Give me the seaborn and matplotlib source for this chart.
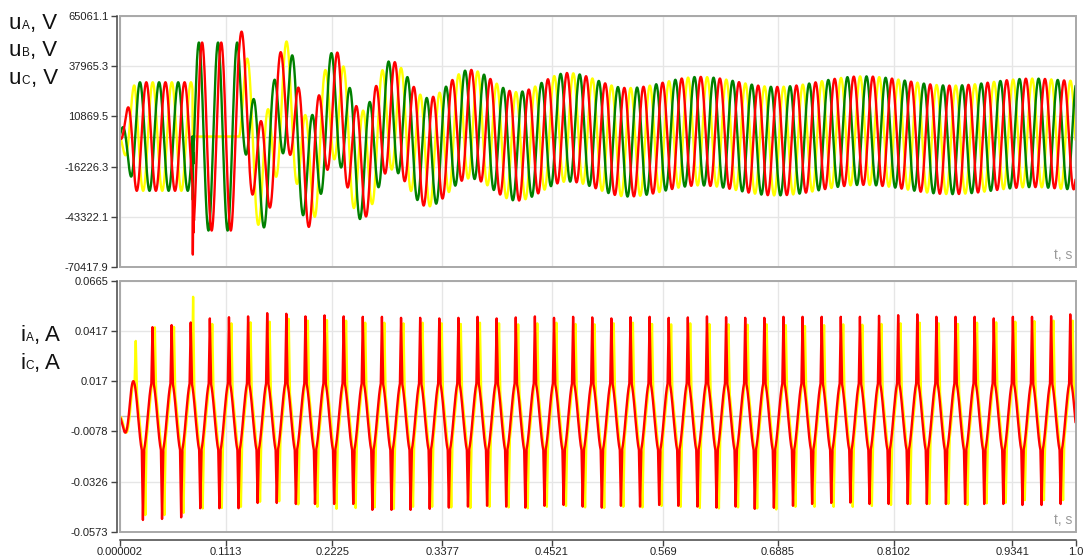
import numpy as np
import matplotlib
matplotlib.use("Agg")
import matplotlib.pyplot as plt
import seaborn as sns
from matplotlib.patches import Rectangle

# ---------------- values ----------------
F_NET = 50.0                 # Hz
U_AMP = 29300.0              # phase voltage peak, V
U_PHASE_A = -175.0           # deg, phase of uA at t = 0
RAMP_T = [0.0, 0.016]        # recorder start-up ramp
RAMP_G = [0.0, 1.0]
FAULT_ON = 0.0764            # s, phase A to ground
FAULT_OFF = 0.1253           # s, fault cleared
BURST_F = 1500.0             # Hz, inception transient on B and C
BURST_TAU = 0.0005           # s

# neutral voltage swing after clearing: times and values of its extremes
U0_T = [0.1484, 0.1746, 0.1976, 0.2248, 0.2531, 0.2835, 0.3222, 0.3662, 0.4154,
        0.4688, 0.5316, 0.6070, 0.6866, 0.7777, 0.8699, 0.9557, 1.0]
U0_V = [-21000, 22000, -19500, 17000, -15500, 11500, -8500, 6700, -5300,
        5000, -3100, 2900, -2500, 3200, -1800, 2000, 800]

I_AMP = 0.0176               # A, fundamental of the currents
I_OFF = -0.0006
I_PHASE_C = -171.0           # deg
I_LAG_A = 0.001              # s, iA behind iC
SPIKE_LAG_A = 0.0025         # s
SPIKE_HALF = 0.0012          # s, half base of a spike

# spike tops per cycle (k = 0..49), NaN = no spike
IC_UP = [np.nan, 0.0437, 0.0447, 0.0460, 0.0480, 0.0486, 0.0490, 0.0506, 0.0503, 0.0490,
         0.0495, 0.0490, 0.0488, 0.0488, 0.0483, 0.0483, 0.0480, 0.0483, 0.0488, 0.0480,
         0.0485, 0.0490, 0.0483, 0.0488, 0.0485, 0.0480, 0.0486, 0.0488, 0.0483, 0.0485,
         0.0490, 0.0486, 0.0483, 0.0483, 0.0488, 0.0488, 0.0488, 0.0488, 0.0488, 0.0493,
         0.0496, 0.0500, 0.0488, 0.0488, 0.0488, 0.0480, 0.0488, 0.0488, 0.0491, 0.0500]
IC_DOWN = [-0.0516, -0.0511, -0.0503, -0.0458, -0.0458, -0.0458, -0.0432, -0.0432, -0.0437, -0.0437,
           -0.0437, -0.0437, -0.0466, -0.0466, -0.0466, -0.0461, -0.0455, -0.0450, -0.0446, -0.0450,
           -0.0455, -0.0446, -0.0442, -0.0450, -0.0455, -0.0446, -0.0450, -0.0442, -0.0446, -0.0450,
           -0.0455, -0.0450, -0.0461, -0.0456, -0.0446, -0.0437, -0.0432, -0.0430, -0.0437, -0.0437,
           -0.0437, -0.0437, -0.0437, -0.0437, -0.0437, -0.0437, -0.0442, -0.0442, -0.0437, np.nan]
IA_UP = [0.0388, 0.0455, 0.0457, 0.0606, 0.0472, 0.0475, 0.0480, 0.0483, 0.0497, 0.0488,
         0.0491, 0.0488, 0.0478, 0.0478, 0.0475, 0.0478, 0.0475, 0.0472, 0.0478, 0.0475,
         0.0470, 0.0475, 0.0478, 0.0472, 0.0470, 0.0475, 0.0478, 0.0472, 0.0470, 0.0475,
         0.0472, 0.0470, 0.0468, 0.0470, 0.0466, 0.0462, 0.0466, 0.0470, 0.0468, 0.0472,
         0.0475, 0.0478, 0.0475, 0.0472, 0.0478, 0.0480, 0.0483, 0.0486, 0.0488, 0.0488]
IA_DOWN = [-0.0511, -0.0511, -0.0500, -0.0478, -0.0476, -0.0470, -0.0445, -0.0443, -0.0458, -0.0470,
           -0.0480, -0.0476, -0.0473, -0.0480, -0.0470, -0.0470, -0.0473, -0.0476, -0.0470, -0.0473,
           -0.0478, -0.0470, -0.0466, -0.0473, -0.0476, -0.0470, -0.0473, -0.0466, -0.0470, -0.0476,
           -0.0478, -0.0473, -0.0478, -0.0483, -0.0470, -0.0470, -0.0470, -0.0470, -0.0466, -0.0461,
           -0.0456, -0.0456, -0.0456, -0.0461, -0.0453, -0.0450, -0.0437, -0.0437, -0.0437, np.nan]

X_TICKS = [0.000002, 0.1113, 0.2225, 0.3377, 0.4521, 0.569, 0.6885, 0.8102, 0.9341, 1.0]
X_LABELS = ["0.000002", "0.1113", "0.2225", "0.3377", "0.4521", "0.569", "0.6885",
            "0.8102", "0.9341", "1.0"]
U_TICKS = [65061.1, 37965.3, 10869.5, -16226.3, -43322.1, -70417.9]
U_LABELS = ["65061.1", "37965.3", "10869.5", "-16226.3", "-43322.1", "-70417.9"]
I_TICKS = [0.0665, 0.0417, 0.017, -0.0078, -0.0326, -0.0573]
I_LABELS = ["0.0665", "0.0417", "0.017", "-0.0078", "-0.0326", "-0.0573"]

YELLOW, GREEN, RED = "#ffff00", "#008000", "#ff0000"

# ---------------- build the traces ----------------
t = np.arange(0.0, 1.0 + 1e-9, 2.5e-5)
w = 2 * np.pi * F_NET


def phase_v(t, deg):
    return U_AMP * np.interp(t, RAMP_T, RAMP_G) * np.sin(w * t + np.radians(deg))


ua = phase_v(t, U_PHASE_A)
ub = phase_v(t, U_PHASE_A - 120)
uc = phase_v(t, U_PHASE_A + 120)

# neutral displacement
u0 = np.zeros_like(t)
on = (t >= FAULT_ON) & (t < FAULT_OFF)
s = t[on] - FAULT_ON
ua_on = phase_v(np.array([FAULT_ON]), U_PHASE_A)[0]
burst = ua_on * np.exp(-s / BURST_TAU) * np.cos(2 * np.pi * BURST_F * s)
u0[on] = -ua[on] + burst

knots_t = [FAULT_OFF] + U0_T
knots_v = [-phase_v(np.array([FAULT_OFF]), U_PHASE_A)[0]] + U0_V
for i in range(len(knots_t) - 1):
    m = (t >= knots_t[i]) & (t <= knots_t[i + 1])
    x = (t[m] - knots_t[i]) / (knots_t[i + 1] - knots_t[i])
    u0[m] = knots_v[i] + (knots_v[i + 1] - knots_v[i]) * (1 - np.cos(np.pi * x)) / 2

uA = ua + u0
uA[on] = 0.0
uB = ub + u0
uC = uc + u0


def current(t, lag, spike_lag, ups, downs):
    tt = t - lag
    g = np.interp(tt, [0.0, 0.012], [0.0, 1.0])
    i = I_OFF + I_AMP * g * np.sin(w * tt + np.radians(I_PHASE_C))
    t_peak = (90 - I_PHASE_C) / 360 / F_NET
    for k in range(len(ups)):
        for tk, top, base in ((t_peak + k / F_NET, ups[k], I_OFF + I_AMP),
                              (t_peak + 0.5 / F_NET + k / F_NET, downs[k], I_OFF - I_AMP)):
            if np.isnan(top):
                continue
            tk = tk + spike_lag
            m = np.abs(t - tk) < SPIKE_HALF
            i[m] += (top - base) * (1 - np.abs(t[m] - tk) / SPIKE_HALF)
    return i


iC = current(t, 0.0, 0.0, IC_UP, IC_DOWN)
iA = current(t, I_LAG_A, SPIKE_LAG_A, IA_UP, IA_DOWN)

# ---------------- figure ----------------
sns.set_theme(style="white")
plt.rcParams["font.family"] = ["Liberation Sans", "DejaVu Sans"]

W, H = 1086, 556
fig = plt.figure(figsize=(W / 100, H / 100), dpi=100)
ax1 = fig.add_axes([119.5 / W, 1 - 267 / H, 956 / W, 251 / H])
ax2 = fig.add_axes([119.5 / W, 1 - 531.5 / H, 956 / W, 250.5 / H])


def style(ax, yticks, ylabels, show_x):
    ax.set_xlim(X_TICKS[0], X_TICKS[-1])
    ax.set_ylim(yticks[-1], yticks[0])
    ax.set_yticks(yticks, labels=ylabels)
    if show_x:
        ax.set_xticks(X_TICKS, labels=X_LABELS)
    else:
        ax.set_xticks(X_TICKS, labels=[])
    ax.grid(True, color="#e6e6e6", lw=1.0, zorder=0)
    ax.axhline(0, color="#b9b9b9", lw=1.0, zorder=1)
    for side in ("top", "right", "bottom"):
        ax.spines[side].set_visible(False)
    ax.spines["left"].set_position(("outward", 2))
    ax.spines["left"].set_color("#444444")
    ax.spines["left"].set_linewidth(1.1)
    ax.tick_params(axis="y", direction="out", length=4, width=1.0, color="#444444",
                   labelsize=8, pad=2, labelcolor="#222222", left=True)
    if show_x:
        ax.spines["bottom"].set_visible(True)
        ax.spines["bottom"].set_position(("outward", 6))
        ax.spines["bottom"].set_color("#444444")
        ax.spines["bottom"].set_linewidth(1.1)
        ax.tick_params(axis="x", direction="out", length=4, width=1.0, color="#444444",
                       labelsize=8, pad=1.5, labelcolor="#222222", bottom=True)
    else:
        ax.tick_params(axis="x", length=0)
    ax.add_patch(Rectangle((0, 0), 1, 1, transform=ax.transAxes, fill=False,
                           ec="#a8a8a8", lw=1.4, clip_on=False, zorder=6))
    ax.text(0.997, 0.018, "t, s", transform=ax.transAxes, ha="right", va="bottom",
            color="#9a9a9a", fontsize=10, zorder=7)
    ax.set_xlabel("")
    ax.set_ylabel("")


for y, c in ((uA, YELLOW), (uB, GREEN), (uC, RED)):
    sns.lineplot(x=t, y=y, ax=ax1, color=c, linewidth=1.7, estimator=None,
                 sort=False, legend=False, zorder=3)
for y, c in ((iA, YELLOW), (iC, RED)):
    sns.lineplot(x=t, y=y, ax=ax2, color=c, linewidth=1.7, estimator=None,
                 sort=False, legend=False, zorder=3)

style(ax1, U_TICKS, U_LABELS, False)
style(ax2, I_TICKS, I_LABELS, True)

# signal names at the left: big letter, small phase letter, unit
renderer = fig.canvas.get_renderer()


def put_label(x_px, base_px, parts):
    x = x_px
    for txt, size in parts:
        tx = fig.text(x / W, 1 - base_px / H, txt, fontsize=size, va="baseline",
                      ha="left", color="#111111")
        bb = tx.get_window_extent(renderer)
        x = bb.x1 + 0.5


put_label(9, 29, [("u", 16), ("A", 8.5), (", V", 16)])
put_label(9, 56, [("u", 16), ("B", 8.5), (", V", 16)])
put_label(9, 84, [("u", 16), ("C", 8.5), (", V", 16)])
put_label(20, 341, [("i", 16), ("A", 8.5), (", A", 16)])
put_label(20, 369, [("i", 16), ("C", 8.5), (", A", 16)])

fig.savefig("out.png", dpi=100)
